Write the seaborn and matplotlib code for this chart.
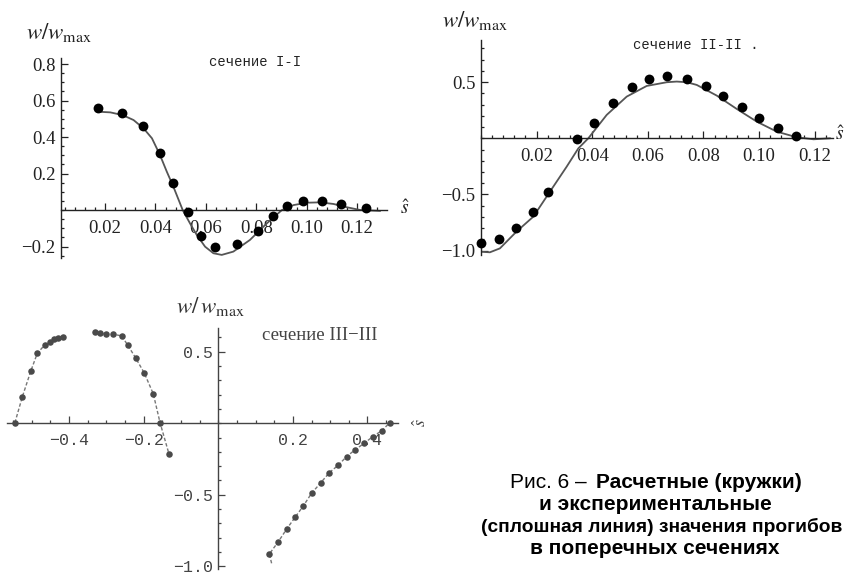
import numpy as np
import pandas as pd
import seaborn as sns
import matplotlib.pyplot as plt
import matplotlib.ticker as mticker

# --- section I-I : dots (calculated) and solid curve (experiment)
s1_x = [0.0171, 0.0269, 0.0352, 0.0418, 0.0469, 0.0531, 0.0580, 0.0638, 0.0725, 0.0806,
        0.0865, 0.0921, 0.0987, 0.1060, 0.1137, 0.1235]
s1_y = [0.561, 0.530, 0.460, 0.314, 0.146, -0.013, -0.142, -0.204, -0.188, -0.115,
        -0.033, 0.022, 0.049, 0.049, 0.031, 0.013]
c1_x = [0.0168, 0.0221, 0.0270, 0.0313, 0.0353, 0.0386, 0.0418, 0.0445, 0.0471, 0.0508,
        0.0537, 0.0564, 0.0597, 0.0630, 0.0663, 0.0709, 0.0775, 0.0842, 0.0902, 0.0948,
        0.1001, 0.1054, 0.1107, 0.1160, 0.1213, 0.1292]
c1_y = [0.539, 0.535, 0.520, 0.493, 0.447, 0.393, 0.301, 0.210, 0.128, 0.0,
        -0.073, -0.137, -0.201, -0.237, -0.246, -0.228, -0.164, -0.073, 0.0, 0.027,
        0.040, 0.042, 0.033, 0.015, 0.0, -0.005]

# --- section II-II
s2_x = [0.0, 0.0066, 0.0125, 0.0186, 0.0240, 0.0344, 0.0406, 0.0476, 0.0542, 0.0605,
        0.0668, 0.0742, 0.0808, 0.0872, 0.0938, 0.1001, 0.1067, 0.1132]
s2_y = [-0.93, -0.894, -0.796, -0.659, -0.475, -0.009, 0.134, 0.317, 0.454, 0.528,
        0.552, 0.528, 0.466, 0.377, 0.276, 0.183, 0.094, 0.020]
c2_x = [0.0, 0.0032, 0.0068, 0.0128, 0.0188, 0.0248, 0.0308, 0.0350, 0.0386, 0.0452,
        0.0524, 0.0596, 0.0668, 0.0704, 0.0740, 0.0776, 0.0848, 0.0920, 0.0992, 0.1064,
        0.1136, 0.1196, 0.1256]
c2_y = [-1.01, -1.015, -0.98, -0.83, -0.698, -0.475, -0.253, -0.09, 0.0, 0.208,
        0.371, 0.466, 0.499, 0.505, 0.499, 0.475, 0.380, 0.261, 0.148, 0.059,
        0.009, -0.009, 0.0]

# --- section III-III (three branches)
s3a_x = [-0.545, -0.525, -0.502, -0.485, -0.465, -0.451, -0.440, -0.429, -0.417]
s3a_y = [0.004, 0.186, 0.368, 0.489, 0.548, 0.571, 0.587, 0.599, 0.601]
s3b_x = [-0.331, -0.317, -0.301, -0.281, -0.259, -0.243, -0.221, -0.198, -0.174, -0.156, -0.132]
s3b_y = [0.641, 0.629, 0.624, 0.622, 0.611, 0.548, 0.455, 0.350, 0.205, 0.004, -0.215]
s3c_x = [0.137, 0.161, 0.183, 0.206, 0.228, 0.250, 0.275, 0.298, 0.322, 0.344, 0.366,
         0.391, 0.414, 0.438, 0.460]
s3c_y = [-0.914, -0.828, -0.741, -0.657, -0.578, -0.490, -0.415, -0.345, -0.292, -0.233,
         -0.187, -0.140, -0.094, -0.052, 0.004]
c3c_x = [0.143] + s3c_x
c3c_y = [-0.979] + s3c_y

# tick labels
t1_x = [0.02, 0.04, 0.06, 0.08, 0.10, 0.12]
t1_xl = ["0.02", "0.04", "0.06", "0.08", "0.10", "0.12"]
t1_y = [-0.2, 0.2, 0.4, 0.6, 0.8]
t1_yl = ["\u22120.2", "0.2", "0.4", "0.6", "0.8"]
t2_y = [-1.0, -0.5, 0.5]
t2_yl = ["\u22121.0", "\u22120.5", "0.5"]
t3_x = [-0.4, -0.2, 0.2, 0.4]
t3_xl = ["\u22120.4", "\u22120.2", "0.2", "0.4"]

caption = ["и экспериментальные",
           "(сплошная линия) значения прогибов",
           "в поперечных сечениях"]

sns.set_theme(style="white")
plt.rcParams['font.family'] = ['Liberation Serif', 'DejaVu Serif']
plt.rcParams['mathtext.fontset'] = 'stix'

W, H = 846, 575
fig = plt.figure(figsize=(W / 100, H / 100), dpi=100)


def box(l, t, r, b):
    return [l / W, 1 - b / H, (r - l) / W, (b - t) / H]


def px(x, y):
    return x / W, 1 - y / H


def style_axes(ax, xmin_spine, xmaj, xlab, ymaj, ylab, xminor, yminor, fsize, ffam, col):
    for s in ['top', 'right']:
        ax.spines[s].set_visible(False)
    ax.spines['left'].set_position(('data', xmin_spine))
    ax.spines['bottom'].set_position(('data', 0))
    for s in ['left', 'bottom']:
        ax.spines[s].set_color(col)
        ax.spines[s].set_linewidth(1.0)
    ax.xaxis.set_major_locator(mticker.FixedLocator(xmaj))
    ax.xaxis.set_major_formatter(mticker.FixedFormatter(xlab))
    ax.yaxis.set_major_locator(mticker.FixedLocator(ymaj))
    ax.yaxis.set_major_formatter(mticker.FixedFormatter(ylab))
    ax.xaxis.set_minor_locator(mticker.MultipleLocator(xminor))
    ax.yaxis.set_minor_locator(mticker.MultipleLocator(yminor))
    ax.tick_params(which='both', direction='in', color=col, width=0.9,
                   bottom=True, left=True)
    ax.tick_params(which='major', length=5)
    ax.tick_params(which='minor', length=2.5)
    ax.tick_params(axis='x', which='major', pad=7)
    ax.tick_params(axis='y', which='major', pad=4)
    for lab in ax.get_xticklabels() + ax.get_yticklabels():
        lab.set_fontsize(fsize)
        lab.set_family(ffam)
        lab.set_color(col)
    ax.set_xlabel('')
    ax.set_ylabel('')
    ax.set_facecolor('none')


# ---------------- panel I-I
ax1 = fig.add_axes(box(61, 58, 387, 258))
sns.lineplot(x=c1_x, y=c1_y, ax=ax1, color='#555555', lw=1.3, sort=False, estimator=None)
sns.scatterplot(x=s1_x, y=s1_y, ax=ax1, color='black', s=50, linewidth=0, zorder=3)
ax1.set_xlim(0.0025, 0.1319)
ax1.set_ylim(-0.263, 0.833)
style_axes(ax1, 0.0025, t1_x, t1_xl, t1_y, t1_yl, 0.004, 0.05, 13.5, 'Liberation Serif',
           '#222222')

# ---------------- panel II-II
ax2 = fig.add_axes(box(481, 40, 833, 255))
sns.lineplot(x=c2_x, y=c2_y, ax=ax2, color='#555555', lw=1.3, sort=False, estimator=None)
sns.scatterplot(x=s2_x, y=s2_y, ax=ax2, color='black', s=50, linewidth=0, zorder=3,
                clip_on=False)
ax2.set_xlim(0.0, 0.1266)
ax2.set_ylim(-1.039, 0.875)
style_axes(ax2, 0.0, t1_x, t1_xl, t2_y, t2_yl, 0.004, 0.1, 13.5, 'Liberation Serif',
           '#222222')

# ---------------- panel III-III
ax3 = fig.add_axes(box(6.7, 328.3, 398.3, 569.3))
for lx, ly in [(s3a_x, s3a_y), (s3b_x, s3b_y), (c3c_x, c3c_y)]:
    sns.lineplot(x=lx, y=ly, ax=ax3, color='#777777', lw=1.0, sort=False,
                 estimator=None, dashes=False, linestyle=(0, (2.5, 1.5)))
for sx, sy in [(s3a_x, s3a_y), (s3b_x, s3b_y), (s3c_x, s3c_y)]:
    sns.scatterplot(x=sx, y=sy, ax=ax3, color='#4a4a4a', s=22, linewidth=0, zorder=3,
                    clip_on=False)
ax3.set_xlim(-0.567, 0.4826)
ax3.set_ylim(-1.021, 0.664)
style_axes(ax3, 0.0, t3_x, t3_xl, t2_y, t2_yl, 0.05, 0.1, 12, 'Liberation Mono', '#444444')

# ---------------- axis names and section titles
ylab = r'$w/w_{\mathrm{max}}$'
fig.text(*px(26, 33), ylab, fontsize=16.5, ha='left', va='center', color='#222222')
fig.text(*px(442, 20), ylab, fontsize=16.5, ha='left', va='center', color='#222222')
fig.text(*px(176, 307), r'$w/\,w_{\mathrm{max}}$', fontsize=16.5, ha='left', va='center',
         color='#333333')
fig.text(*px(405, 209), r'$\hat{s}$', fontsize=14, ha='center', va='center', color='#222222')
fig.text(*px(840, 135), r'$\hat{s}$', fontsize=14, ha='center', va='center', color='#222222')
fig.text(*px(421, 422), r'$\hat{s}$', fontsize=13, ha='center', va='center', rotation=90,
         color='#444444')

fig.text(*px(255, 62), 'сечение I-I', family='Liberation Mono', fontsize=10,
         ha='center', va='center', color='#222222')
fig.text(*px(696, 45), 'сечение II-II .', family='Liberation Mono', fontsize=10,
         ha='center', va='center', color='#222222')
fig.text(*px(320, 335), 'сечение III\u2212III', family='Liberation Serif', fontsize=13.5,
         ha='center', va='center', color='#444444')

# ---------------- caption
cap_fs = 15
fig.text(*px(510, 483), 'Рис. 6 \u2013', family='Liberation Sans', fontsize=cap_fs,
         ha='left', va='center', color='black')
fig.text(*px(596, 483), 'Расчетные (кружки)', family='Liberation Sans', fontsize=cap_fs,
         fontweight='bold', ha='left', va='center', color='black')
fig.text(*px(655, 505), caption[0], family='Liberation Sans', fontsize=cap_fs,
         fontweight='bold', ha='center', va='center', color='black')
fig.text(*px(842, 527), caption[1], family='Liberation Sans', fontsize=13.8,
         fontweight='bold', ha='right', va='center', color='black')
fig.text(*px(655, 549), caption[2], family='Liberation Sans', fontsize=cap_fs,
         fontweight='bold', ha='center', va='center', color='black')

fig.savefig('out.png', dpi=100)
